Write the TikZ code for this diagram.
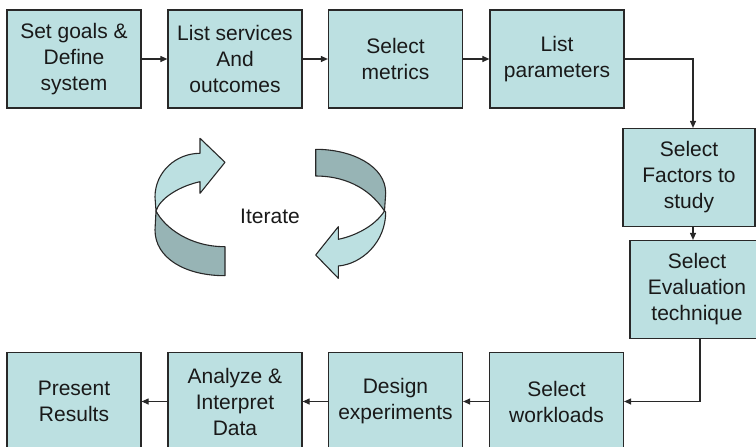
\documentclass[tikz,border=0pt]{standalone}
\usepackage{fontspec}
\setmainfont{Liberation Sans}
\usetikzlibrary{arrows.meta}
\definecolor{boxfill}{RGB}{188,224,225}
\definecolor{darkband}{RGB}{151,180,181}
\definecolor{edgec}{RGB}{40,40,40}
\definecolor{txt}{RGB}{25,25,25}
\tikzset{
  stage/.style={draw=edgec, line width=1.2pt, fill=boxfill, minimum width=134pt,
    minimum height=98pt, inner sep=0pt, align=center, text=txt,
    font=\fontsize{21}{26}\selectfont},
  flow/.style={draw=edgec, line width=1.1pt, -{Triangle[length=7pt,width=6pt]}},
  band/.style={draw=edgec, line width=1.1pt, line join=round},
}
\begin{document}
\begin{tikzpicture}[x=1pt,y=-1pt]
\useasboundingbox (0,0) rectangle (756,447);
\clip (0,0) rectangle (756,447);
% top row
\node[stage] (b1) at (74,59) {Set goals \&\\Define\\system};
\node[stage] (b2) at (235,59) {List services\\And\\outcomes};
\node[stage] (b3) at (395.5,59) {Select\\metrics};
\node[stage] (b4) at (557,59) {List\\parameters};
% right column
\node[stage, minimum width=132pt] (b5) at (689,177.5) {Select\\Factors to\\study};
\node[stage] (b6) at (697,289.5) {Select\\Evaluation\\technique};
% bottom row
\node[stage] (b7) at (556.5,401.5) {Select\\workloads};
\node[stage] (b8) at (395.5,401.5) {Design\\experiments};
\node[stage] (b9) at (235,401.5) {Analyze \&\\Interpret\\Data};
\node[stage] (b10) at (74,401.5) {Present\\Results};
% connectors
\draw[flow] (b1.east) -- (b2.west);
\draw[flow] (b2.east) -- (b3.west);
\draw[flow] (b3.east) -- (b4.west);
\draw[flow] (b4.east) -| ([xshift=4pt]b5.north);
\draw[flow] ([xshift=4pt]b5.south) -- ([xshift=4pt]b5.south |- b6.north);
\draw[flow] ([xshift=3pt]b6.south) |- (b7.east);
\draw[flow] (b7.west) -- (b8.east);
\draw[flow] (b8.west) -- (b9.east);
\draw[flow] (b9.west) -- (b10.east);
% iterate arrows (left)
\filldraw[band, fill=darkband] (156,211) .. controls (165,228) and (190,246.7) .. (225,246.7)
  -- (225,275.7) .. controls (185,275.7) and (155,258) .. (155,230) -- cycle;
\filldraw[band, fill=boxfill] (155,197) .. controls (155,172) and (176,153.3) .. (200,153.3)
  -- (200,138.3) -- (225,162.3) -- (200,193.3) -- (200,181.7)
  .. controls (180,186) and (160,198) .. (156,211) -- cycle;
% iterate arrows (right)
\filldraw[band, fill=darkband] (315.7,149.3) .. controls (352,149.3) and (385.7,166) .. (385.7,193)
  -- (384.5,211) .. controls (368,186) and (342,176) .. (315.7,176) -- cycle;
\filldraw[band, fill=boxfill] (384.5,211) .. controls (375,226) and (355,236) .. (338.3,239.3)
  -- (338.3,226.7) -- (315.7,255) -- (338.3,278.3) -- (338.3,266)
  .. controls (362,264) and (385.7,242) .. (385.7,212) -- cycle;
\node[font=\fontsize{21}{26}\selectfont, text=txt] (it) at (270,216.5) {Iterate};
\end{tikzpicture}
\end{document}
